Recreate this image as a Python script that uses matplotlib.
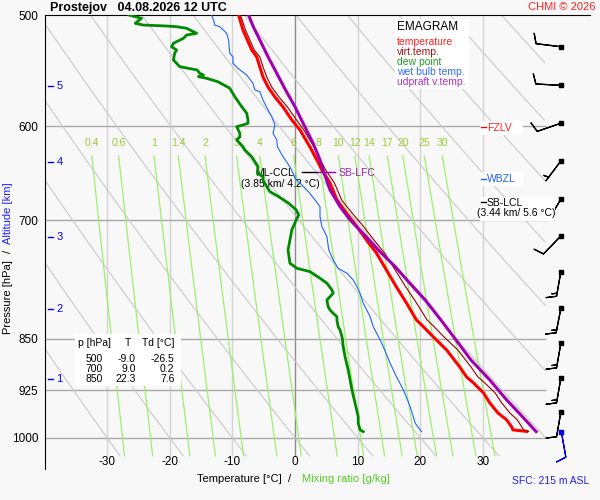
import numpy as np
import matplotlib
matplotlib.use('Agg')
import matplotlib.pyplot as plt
from matplotlib.patches import Rectangle
from matplotlib.lines import Line2D
from matplotlib.ticker import NullLocator

plt.rcParams['font.family'] = ['Liberation Sans', 'DejaVu Sans']

# sounding values (pressure hPa, temperature degC)
p_t = [500, 512.4, 520.9, 529.5, 535.6, 544.5, 553.5, 562.7, 571.9, 581.4, 593.9, 603.7,
       620.8, 634.2, 644.6, 658.5, 677.1, 691.7, 705.5, 723.0, 738.6, 759.5, 781.0, 801.7,
       824.4, 833.5, 847.7, 865.9, 890.4, 905.1, 914.0, 929.1, 944.5, 960.1, 971.2, 982.4,
       987.2, 989.7]
t = [-9.0, -8.3, -7.6, -6.9, -6.1, -5.6, -5.1, -4.3, -3.2, -1.9, -0.5, 0.8,
     2.4, 3.5, 4.3, 5.6, 6.7, 8.2, 9.7, 11.4, 13.0, 14.6, 16.2, 17.8,
     19.4, 20.5, 22.1, 24.2, 26.3, 27.4, 28.5, 30.1, 31.1, 32.4, 33.8, 34.6,
     34.8, 37.0]
tv = [-8.7, -7.9, -7.2, -6.5, -5.6, -5.1, -4.5, -3.7, -2.55, -1.2, 0.25, 1.4,
      3.05, 4.05, 4.9, 6.3, 7.45, 9.1, 10.75, 12.6, 14.3, 16.0, 17.7, 19.4,
      21.1, 22.2, 23.8, 26.0, 28.1, 29.2, 30.3, 31.95, 33.0, 34.3, 35.5, 36.2,
      36.5, 37.3]

p_td = [500.0, 501.4, 502.7, 506.9, 508.3, 509.1, 509.7, 511.0, 515.2, 516.7, 519.5, 523.7,
        526.7, 529.5, 532.4, 538.3, 544.2, 547.2, 550.2, 551.7, 553.2, 554.7, 557.8, 563.8,
        571.7, 581.1, 587.4, 593.9, 597.1, 598.8, 600.5, 607.0, 610.7, 613.7, 620.5, 623.9,
        630.8, 641.2, 648.2, 651.8, 655.3, 662.5, 668.0, 673.5, 680.8, 688.3, 694.0, 699.7,
        711.3, 723.0, 735.0, 751.2, 757.4, 761.6, 769.9, 776.2, 784.8, 789.1, 793.5, 797.8,
        806.6, 811.0, 815.4, 820.0, 824.4, 833.5, 838.1, 847.3, 851.9, 861.3, 875.6, 894.8,
        924.5, 944.9, 965.9, 976.5, 987.2, 990.0]
td = [-26.5, -25.5, -24.5, -25.5, -24.2, -20.5, -18.9, -17.3, -15.7, -17.3, -17.8, -19.4,
      -19.7, -18.9, -19.2, -19.4, -18.4, -15.6, -15.2, -14.6, -15.4, -14.1, -12.3, -10.4,
      -9.6, -8.5, -7.7, -7.5, -7.5, -8.3, -9.3, -8.8, -8.8, -9.3, -8.3, -8.0,
      -6.9, -5.9, -6.0, -5.1, -5.1, -4.5, -4.0, -2.6, -1.0, 0.2, 0.6, 0.2,
      -0.5, -0.8, -1.1, -0.8, 0.3, 2.4, 4.0, 5.1, 5.9, 6.1, 5.6, 5.1,
      5.3, 5.6, 6.1, 6.7, 6.7, 6.9, 7.2, 7.5, 7.6, 7.7, 8.0, 8.5,
      9.1, 9.6, 10.1, 10.1, 10.4, 10.9]

p_tw = [500.0, 504.1, 508.3, 509.7, 515.2, 520.9, 532.4, 535.4, 541.2, 545.7, 551.7, 559.3,
        565.4, 567.0, 574.8, 584.3, 590.7, 598.8, 607.0, 613.7, 620.5, 630.8, 641.2, 648.2,
        653.2, 660.7, 668.4, 677.1, 684.6, 695.9, 707.4, 719.1, 735.0, 747.1, 757.4, 763.6,
        772.0, 780.6, 789.1, 802.1, 820.0, 833.5, 851.9, 861.3, 885.0, 904.6, 924.5, 950.3,
        976.5, 990.0]
tw = [-13.3, -13.0, -12.8, -12.0, -10.9, -10.6, -10.4, -9.9, -9.9, -9.1, -7.7, -6.7,
      -6.4, -5.6, -5.1, -4.3, -3.7, -3.2, -3.5, -2.9, -2.8, -1.9, -0.8, -0.3,
      0.0, 1.1, 2.2, 3.2, 4.0, 4.0, 4.3, 5.1, 5.4, 6.1, 6.9, 8.3,
      9.3, 9.9, 10.4, 10.9, 12.0, 12.5, 13.6, 14.1, 15.2, 16.2, 17.3, 18.4,
      19.2, 20.2]

p_par = [500, 509.7, 520.9, 535.4, 550.2, 565.4, 581.1, 597.1, 617.0, 634.2, 646.8, 666.1,
         684.6, 699.7, 715.1, 735.0, 755.4, 776.2, 797.8, 824.4, 849.5, 880.3, 909.6, 939.9,
         960.6, 990.0]
tpar = [-7.4, -6.65, -5.6, -4.3, -2.9, -1.5, 0.0, 1.3, 2.9, 4.0, 4.6, 5.6,
        7.2, 8.8, 10.85, 13.3, 16.0, 18.35, 20.8, 23.3, 25.5, 28.1, 31.1, 33.8,
        35.8, 38.5]

# winds
wind_p = [526.7, 561.1, 597.1, 635.2, 676.3, 718.3, 761.6, 808.8, 856.5, 907.1, 958.9]
wind_dir = [277, 273, 251, 217, 211, 224, 190, 191, 190, 190, 190]
wind_kt = [10, 10, 10, 5, 5, 10, 15, 15, 15, 15, 10]
sfc_p = 991.0
sfc_dir = 170
sfc_kt = 10

# diagram furniture
p_lines = [600, 700, 850, 925, 1000]
p_ticks = [500, 600, 700, 850, 925, 1000]
t_lines = [-30, -20, -10, 0, 10, 20, 30]
theta_lines = [-30, -20, -10, 0, 10, 20, 30, 40, 50, 60, 70, 80, 90, 100]
mix_ratio = [0.4, 0.6, 1, 1.4, 2, 3, 4, 6, 8, 10, 12, 14, 17, 20, 25, 30]
mix_labels = ['0.4', '0.6', '1', '1.4', '2', '3', '4', '6', '8', '10', '12', '14', '17', '20', '25', '30']
alt_km = [1, 2, 3, 4, 5]
alt_p = [908.1, 809.7, 719.5, 636.3, 561.7]

tab_p = [500, 700, 850]
tab_t = [-9.0, 9.0, 22.3]
tab_td = [-26.5, 0.2, 7.6]

BG = '#f8f8f8'
fig = plt.figure(figsize=(6, 5), dpi=100, facecolor=BG)
ax = fig.add_axes([45/600, 31/500, 545/600, 454/500], facecolor=BG)
ax.set_yscale('log')
ax.set_xlim(-39.9, 47.1)
ax.set_ylim(1052.6, 500)


def P(x, y):
    return x/600, 1 - y/500


def pxline(x0, x1, y, color):
    fig.add_artist(Line2D([x0/600, x1/600], [1 - y/500]*2, color=color, lw=1))


def pxbox(x0, y0, x1, y1):
    fig.add_artist(Rectangle((x0/600, 1 - y1/500), (x1 - x0)/600, (y1 - y0)/500,
                             transform=fig.transFigure, facecolor='white', edgecolor='none', zorder=2))


# grid
ax.vlines([x for x in t_lines if x != 0], 500, 1030, color='#d4d4d4', lw=1, zorder=1)
ax.vlines([0], 500, 1030, color='#8c8c8c', lw=1, zorder=1)
ax.hlines(p_lines, -39.9, 40, color='#a8a8a8', lw=1, zorder=1)

# dry adiabats
pp = np.linspace(500, 1030, 300)
for th in theta_lines:
    ta = (th + 273.15)*(pp/1000.0)**0.2857 - 273.15
    ta = np.where((ta <= 40) & (ta >= -39.9), ta, np.nan)
    ax.plot(ta, pp, color='#cacaca', lw=0.8, zorder=1)

# mixing ratio lines
pm = np.linspace(630, 1030, 60)
for w, lab in zip(mix_ratio, mix_labels):
    le = np.log(w*pm/(622.0 + w)/6.112)
    tm = 243.5*le/(17.67 - le)
    ax.plot(tm, pm, color='#9cf06c', lw=0.9, zorder=1)
    ax.text(tm[0], 617, lab, color='#99cc33', fontsize=7.5, ha='center', va='center')

for x in t_lines:
    ax.text(x, 1041, str(x), fontsize=8.5, ha='center', va='center')

# profiles
ax.plot(tw, p_tw, color='#1f66ff', lw=0.8, zorder=3)
ax.plot(td, p_td, color='#008a00', lw=2.0, zorder=4)
ax.plot(t, p_t, color='#ff0000', lw=2.2, zorder=5)
ax.plot(tv, p_t, color='#990000', lw=0.8, zorder=6)
ax.plot(tpar, p_par, color='#a000b0', lw=2.2, zorder=7)

# winds
d = np.radians(wind_dir)
u = -np.array(wind_kt)*np.sin(d)
v = -np.array(wind_kt)*np.cos(d)
xw = np.full(len(wind_p), 42.45)
ax.barbs(xw, wind_p, u, v, length=6, color='k', lw=0.9, zorder=8)
ax.scatter(xw, wind_p, marker='s', s=5, color='k', zorder=9)
ds = np.radians(sfc_dir)
ax.barbs([42.45], [sfc_p], [-sfc_kt*np.sin(ds)], [-sfc_kt*np.cos(ds)], length=6,
         color='#0000ee', lw=0.9, zorder=8)
ax.scatter([42.45], [sfc_p], marker='s', s=5, color='#0000ee', zorder=9)

# CCL / LFC markers
ax.plot([1.07, 3.5], [646.4, 646.4], color='k', lw=1, zorder=8)
ax.plot([3.5, 6.4], [646.4, 646.4], color='#a000b0', lw=1, zorder=8)
ax.text(7.0, 648, 'SB-LFC', color='#a020b0', fontsize=7.5, va='center', ha='left', zorder=2)
ax.text(-3.2, 648.2, 'ML-CCL', fontsize=7.5, va='center', ha='center', zorder=2)
ax.text(-2.4, 659.5, '(3.85 km/ 4.2 °C)', fontsize=7.5, va='center', ha='center', zorder=2)

# altitude ticks
for km, pa in zip(alt_km, alt_p):
    ax.plot([-39.4, -38.6], [pa, pa], color='#0000ff', lw=1)
    ax.text(-37.6, pa, str(km), color='#0000ff', fontsize=8, ha='center', va='center')

# axes styling
for s in ['right', 'bottom']:
    ax.spines[s].set_visible(False)
ax.spines['left'].set_color('k')
ax.spines['top'].set_color('k')
ax.set_xticks([])
ax.set_yticks(p_ticks)
ax.set_yticklabels([str(p) for p in p_ticks])
ax.yaxis.set_minor_locator(NullLocator())
ax.tick_params(axis='y', length=0, pad=5, labelsize=8.5)

# right side level labels
pxbox(480, 121, 523, 135)
pxline(481, 486, 127, '#ff0000')
fig.text(*P(487, 128), 'FZLV', color='#ff2020', fontsize=7.5, va='center', ha='left', zorder=3)
pxbox(480, 172, 523, 186)
pxline(481, 486, 179, '#2060ff')
fig.text(*P(487, 179.5), 'WBZL', color='#2060ff', fontsize=7.5, va='center', ha='left', zorder=3)
pxbox(480, 197, 555, 221)
pxline(481, 486, 202, 'k')
fig.text(*P(487, 203), 'SB-LCL', fontsize=7.5, va='center', ha='left', zorder=3)
fig.text(*P(516, 213.5), '(3.44 km/ 5.6 °C)', fontsize=7.5, va='center', ha='center', zorder=3)

# legend
pxbox(395, 19, 469, 89)
fig.text(*P(397, 26.5), 'EMAGRAM', fontsize=8.5, va='center', ha='left', zorder=3)
leg_names = ['temperature', 'virt.temp.', 'dew point', 'wet bulb temp.', 'udpraft v.temp.']
leg_colors = ['#ff2020', '#aa1111', '#229922', '#2f6fef', '#b030c0']
for i, (nm, c) in enumerate(zip(leg_names, leg_colors)):
    fig.text(*P(397, 42 + 10*i), nm, color=c, fontsize=7.5, va='center', ha='left', zorder=3)

# table
pxbox(75, 334, 181, 386)
fig.text(*P(78, 343.5), 'p [hPa]', fontsize=7.5, va='center', ha='left', zorder=3)
fig.text(*P(128.3, 343.5), 'T', fontsize=7.5, va='center', ha='center', zorder=3)
fig.text(*P(141.7, 343.5), 'Td [°C]', fontsize=7.5, va='center', ha='left', zorder=3)
for i in range(len(tab_p)):
    yy = 358.5 + 10*i
    fig.text(*P(102.5, yy), str(tab_p[i]), fontsize=7.5, va='center', ha='right', zorder=3)
    fig.text(*P(136, yy), '%.1f' % tab_t[i], fontsize=7.5, va='center', ha='right', zorder=3)
    fig.text(*P(174.5, yy), '%.1f' % tab_td[i], fontsize=7.5, va='center', ha='right', zorder=3)

# titles and axis labels
fig.text(*P(50, 7.5), 'Prostejov   04.08.2026 12 UTC', fontsize=9, fontweight='bold', va='center', ha='left')
fig.text(*P(596, 7.5), 'CHMI © 2026', color='#ff2020', fontsize=8, va='center', ha='right')
fig.text(*P(8, 297), 'Pressure [hPa]', fontsize=8, rotation=90, va='center', ha='center')
fig.text(*P(8, 251), '/', fontsize=8, rotation=90, va='center', ha='center')
fig.text(*P(8, 213), 'Altitude [km]', color='#2020ff', fontsize=8, rotation=90, va='center', ha='center')
fig.text(*P(197, 479.5), 'Temperature [°C]  /', fontsize=8, va='center', ha='left')
fig.text(*P(302, 479.5), 'Mixing ratio [g/kg]', color='#55cc22', fontsize=8, va='center', ha='left')
fig.text(*P(589, 481), 'SFC: 215 m ASL', color='#2020ee', fontsize=7.5, va='center', ha='right')

fig.savefig('out.png', dpi=100, facecolor=BG)
